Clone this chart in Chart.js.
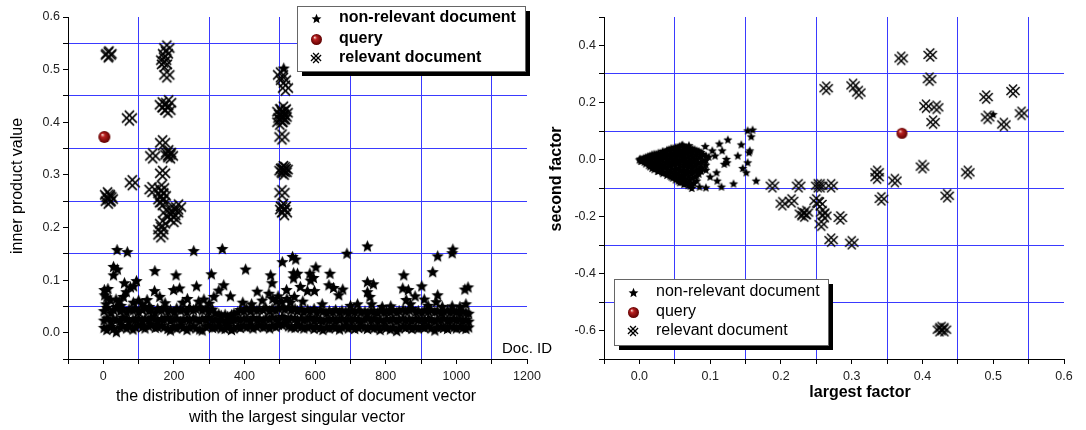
<!DOCTYPE html>
<html>
<head>
<meta charset="utf-8">
<script src="https://cdn.jsdelivr.net/npm/chart.js@4.4.1/dist/chart.umd.min.js"></script>
<style>
  html, body { margin: 0; padding: 0; background: #fff; }
  #wrap { position: relative; width: 1086px; height: 430px; }
  canvas { position: absolute; top: 0; }
  #leftChart { left: 0; }
  #rightChart { left: 543px; }
</style>
</head>
<body>
<div id="wrap">
  <canvas id="leftChart" width="562" height="430"></canvas>
  <canvas id="rightChart" width="543" height="430"></canvas>
</div>
<script>
// ---------- left plot: inner product value per document id ----------
// dense band of non-relevant documents (three rows read off the cloud)
const bandIds = [
  2, 10, 21, 29, 37, 48, 55, 66, 73, 84,
  91, 100, 111, 118, 129, 136, 147, 154, 165, 172,
  183, 190, 201, 208, 219, 226, 237, 244, 255, 262,
  273, 280, 291, 298, 309, 316, 327, 334, 345, 352,
  363, 370, 381, 388, 399, 406, 417, 424, 435, 442,
  453, 460, 471, 478, 489, 496, 507, 514, 525, 532,
  543, 550, 561, 568, 579, 586, 597, 604, 615, 622,
  633, 640, 651, 658, 669, 676, 687, 694, 705, 712,
  723, 730, 741, 748, 759, 766, 777, 784, 795, 802,
  813, 820, 831, 838, 849, 856, 867, 874, 885, 892,
  903, 910, 921, 928, 939, 946, 957, 964, 975, 982,
  993, 1000, 1011, 1018, 1027, 1035
];
const bandLow = [
  .010, .006, .012, .008, .002, .011, .014, .009, .013, .007,
  .011, .015, .012, .009, .013, .016, .010, .012, .014, .011,
  .008, .005, .012, .009, .014, .010, .006, .011, .013, .009,
  .007, .005, .012, .014, .010, .011, .013, .009, .008, .012,
  .006, .009, .012, .010, .014, .011, .013, .009, .012, .015,
  .011, .013, .009, .014, .012, .016, .015, .018, .013, .011,
  .010, .014, .012, .009, .011, .013, .008, .012, .010, .006,
  .011, .009, .012, .010, .007, .011, .013, .009, .012, .008,
  .010, .013, .011, .008, .012, .009, .011, .006, .012, .010,
  .007, .011, .004, .009, .013, .010, .012, .008, .011, .009,
  .012, .010, .013, .009, .005, .011, .012, .010, .008, .013,
  .011, .009, .012, .010, .008, .011
];
const bandMid = [
  .024, .028, .022, .026, .025, .023, .029, .027, .021, .026,
  .025, .028, .023, .027, .024, .030, .026, .022, .027, .025,
  .029, .023, .026, .028, .022, .025, .027, .024, .028, .026,
  .023, .027, .025, .029, .024, .026, .021, .024, .020, .023,
  .022, .025, .027, .024, .028, .026, .023, .029, .025, .027,
  .024, .028, .026, .030, .027, .025, .031, .028, .026, .029,
  .027, .025, .028, .024, .026, .029, .023, .027, .025, .022,
  .026, .024, .027, .023, .025, .028, .022, .026, .024, .027,
  .025, .023, .026, .028, .024, .027, .022, .025, .023, .026,
  .024, .027, .022, .025, .028, .024, .026, .023, .027, .025,
  .026, .023, .027, .025, .022, .026, .024, .028, .023, .025,
  .027, .024, .026, .023, .025, .022
];
const bandHigh = [
  .042, .048, .038, .044, .050, .041, .046, .039, .045, .043,
  .047, .040, .044, .049, .042, .045, .038, .046, .043, .048,
  .041, .044, .039, .047, .043, .045, .040, .048, .044, .046,
  .049, .043, .047, .041, .045, .038, .036, .033, .035, .031,
  .034, .037, .040, .044, .042, .046, .041, .047, .043, .045,
  .044, .048, .042, .046, .043, .047, .049, .045, .048, .044,
  .046, .042, .045, .040, .044, .041, .046, .039, .043, .041,
  .038, .042, .040, .044, .039, .043, .041, .038, .042, .040,
  .043, .039, .041, .037, .042, .040, .038, .043, .039, .041,
  .040, .044, .039, .042, .045, .041, .043, .046, .040, .042,
  .039, .043, .041, .044, .040, .042, .038, .041, .043, .039,
  .042, .040, .038, .041, .039, .037
];
// scattered non-relevant documents above the band
const leftStarIds = [
  39, 68, 29, 40, 29, 60, 94, 77, 3, 13,
  4, 146, 145, 256, 337, 206, 199, 216, 306, 264,
  341, 327, 403, 436, 474, 478, 469, 507, 519, 536,
  545, 539, 550, 539, 541, 558, 585, 587, 602, 595,
  598, 578, 642, 639, 652, 667, 678, 690, 748, 748,
  765, 748, 755, 760, 851, 848, 864, 858, 883, 902,
  909, 933, 947, 947, 943, 988, 990, 988, 1027, 1024,
  1033, 511, 20, 57, 124, 160, 238, 285, 313, 360,
  8, 45, 85, 110, 175, 225, 270, 300, 395, 420,
  450, 490, 520, 530, 565, 620, 700, 720, 790, 814,
  870, 920, 960, 1010, 505, 495, 480, 10, 50, 130,
  65, 86, 36, 100
];
const leftStarVals = [
  .158, .154, .126, .121, .110, .095, .099, .087, .082, .084,
  .072, .118, .080, .156, .160, .110, .082, .085, .112, .089,
  .091, .081, .121, .079, .110, .095, .075, .135, .082, .145,
  .140, .114, .113, .104, .069, .088, .113, .100, .125, .105,
  .080, .080, .113, .091, .086, .072, .083, .151, .165, .097,
  .093, .078, .069, .055, .110, .085, .082, .063, .070, .089,
  .064, .116, .146, .072, .059, .152, .159, .051, .055, .083,
  .087, .503, .063, .069, .063, .069, .065, .064, .069, .070,
  .055, .060, .058, .055, .057, .058, .060, .056, .058, .055,
  .062, .060, .065, .058, .060, .055, .052, .055, .050, .051,
  .055, .052, .050, .050, .060, .070, .065, .068, .052, .050,
  .078, .089, .064, .062
];
const leftRelIds = [
  14, 16, 74, 82, 12, 16, 20, 14, 140, 138,
  168, 168, 180, 176, 171, 173, 180, 167, 185, 183,
  175, 185, 190, 183, 163, 163, 170, 167, 163, 163,
  168, 178, 190, 205, 213, 200, 195, 165, 502, 516,
  510, 500, 505, 512, 508, 500, 515, 510, 503, 506,
  510, 512, 506, 515, 506, 510, 513, 508
];
const leftRelVals = [
  .528, .530, .408, .285, .262, .258, .254, .250, .336, .272,
  .361, .303, .541, .530, .518, .510, .490, .433, .437, .423,
  .428, .342, .336, .338, .265, .253, .260, .247, .196, .186,
  .207, .228, .220, .228, .239, .215, .235, .275, .490, .465,
  .480, .420, .415, .410, .405, .400, .418, .425, .408, .372,
  .312, .305, .308, .310, .266, .240, .228, .234
];
const leftQueryIds = [3];
const leftQueryVals = [0.372];

const leftXTicks  = [-100, 0, 100, 200, 300, 400, 500, 600, 700, 800, 900, 1000, 1100, 1200];
const leftXLabels = ['', '0', '', '200', '', '400', '', '600', '', '800', '', '1000', '', '1200'];
const leftXGrid   = [100, 300, 500, 700, 900, 1100];
const leftYTicks  = [-0.05, 0, 0.05, 0.1, 0.15, 0.2, 0.25, 0.3, 0.35, 0.4, 0.45, 0.5, 0.55, 0.6];
const leftYLabels = ['', '0.0', '', '0.1', '', '0.2', '', '0.3', '', '0.4', '', '0.5', '', '0.6'];
const leftYGrid   = [0.05, 0.15, 0.25, 0.35, 0.45, 0.55];

// ---------- right plot: largest factor vs second factor ----------
const rightStarX = [
  0.000, 0.002, 0.001,
  0.006, 0.007, 0.005,
  0.012, 0.011, 0.013,
  0.018, 0.017, 0.019, 0.018,
  0.024, 0.025, 0.023, 0.024, 0.026,
  0.030, 0.031, 0.029, 0.030, 0.032,
  0.036, 0.035, 0.037, 0.036, 0.038,
  0.042, 0.043, 0.041, 0.042, 0.044, 0.043,
  0.048, 0.049, 0.047, 0.048, 0.050, 0.049, 0.047,
  0.054, 0.055, 0.053, 0.054, 0.056, 0.055, 0.053, 0.055,
  0.060, 0.061, 0.059, 0.060, 0.062, 0.061, 0.059, 0.060,
  0.066, 0.067, 0.065, 0.066, 0.068, 0.067, 0.065, 0.066,
  0.072, 0.073, 0.071, 0.072, 0.074, 0.073, 0.071, 0.072,
  0.078, 0.079, 0.077, 0.078, 0.080, 0.079, 0.077,
  0.084, 0.085, 0.083, 0.085, 0.084,
  0.090, 0.091, 0.089,
  0.093, 0.113, 0.125, 0.144, 0.153, 0.160, 0.158, 0.156, 0.155, 0.139,
  0.153, 0.146, 0.151, 0.165, 0.133, 0.116, 0.110, 0.094, 0.103, 0.107,
  0.117, 0.124, 0.120, 0.109, 0.123, 0.074, 0.085, 0.100, 0.098, 0.500,
  0.061, 0.070
];
const rightStarY = [
  0.000, -0.004, 0.003,
  0.006, -0.008, -0.001,
  0.012, -0.004, -0.020,
  0.018, 0.002, -0.014, -0.030,
  0.020, 0.004, -0.012, -0.028, -0.040,
  0.024, 0.008, -0.008, -0.024, -0.042,
  0.028, 0.010, -0.008, -0.026, -0.046,
  0.036, 0.018, 0.000, -0.018, -0.036, -0.056,
  0.040, 0.022, 0.004, -0.014, -0.032, -0.050, -0.064,
  0.044, 0.026, 0.008, -0.010, -0.028, -0.046, -0.064, -0.074,
  0.050, 0.030, 0.012, -0.006, -0.024, -0.042, -0.060, -0.078,
  0.044, 0.026, 0.008, -0.010, -0.028, -0.046, -0.066, -0.084,
  0.040, 0.022, 0.004, -0.014, -0.032, -0.050, -0.070, -0.092,
  0.036, 0.016, -0.002, -0.020, -0.040, -0.060, -0.082,
  0.030, 0.010, -0.010, -0.030, -0.050,
  0.020, -0.005, -0.030,
  0.047, 0.056, 0.070, 0.053, 0.102, 0.105, 0.081, 0.032, 0.025, 0.014,
  -0.010, -0.030, -0.045, -0.074, -0.084, -0.095, -0.074, -0.098, 0.032, 0.014,
  0.032, -0.010, -0.015, -0.045, 0.002, -0.100, -0.095, -0.060, 0.010, 0.159,
  0.052, 0.050
];
// second, offset layer of the dense non-relevant blob
const rightCoreX = [
  0.003, 0.003,
  0.009, 0.009, 0.009,
  0.015, 0.015, 0.015, 0.015,
  0.021, 0.021, 0.021, 0.021, 0.021,
  0.027, 0.027, 0.027, 0.027, 0.027, 0.027,
  0.033, 0.033, 0.033, 0.033, 0.033, 0.033,
  0.039, 0.039, 0.039, 0.039, 0.039, 0.039, 0.039,
  0.045, 0.045, 0.045, 0.045, 0.045, 0.045, 0.045,
  0.051, 0.051, 0.051, 0.051, 0.051, 0.051, 0.051, 0.051,
  0.057, 0.057, 0.057, 0.057, 0.057, 0.057, 0.057, 0.057, 0.057,
  0.063, 0.063, 0.063, 0.063, 0.063, 0.063, 0.063, 0.063, 0.063,
  0.069, 0.069, 0.069, 0.069, 0.069, 0.069, 0.069, 0.069, 0.069,
  0.075, 0.075, 0.075, 0.075, 0.075, 0.075, 0.075, 0.075,
  0.081, 0.081, 0.081, 0.081, 0.081, 0.081, 0.081,
  0.087, 0.087, 0.087, 0.087, 0.087,
  0.094, 0.094, 0.094, 0.094
];
const rightCoreY = [
  0.002, -0.005,
  0.009, -0.006, -0.014,
  0.014, 0.004, -0.010, -0.024,
  0.020, 0.008, -0.006, -0.020, -0.034,
  0.024, 0.012, -0.002, -0.016, -0.032, -0.040,
  0.030, 0.016, 0.000, -0.016, -0.034, -0.048,
  0.034, 0.020, 0.004, -0.012, -0.028, -0.044, -0.054,
  0.040, 0.026, 0.010, -0.006, -0.024, -0.042, -0.060,
  0.044, 0.030, 0.014, -0.002, -0.020, -0.038, -0.056, -0.070,
  0.048, 0.034, 0.018, 0.000, -0.018, -0.036, -0.054, -0.072, -0.080,
  0.046, 0.034, 0.018, 0.000, -0.018, -0.036, -0.054, -0.072, -0.086,
  0.042, 0.030, 0.014, -0.004, -0.022, -0.040, -0.058, -0.078, -0.090,
  0.038, 0.026, 0.010, -0.008, -0.026, -0.044, -0.064, -0.086,
  0.032, 0.018, 0.002, -0.016, -0.034, -0.056, -0.074,
  0.026, 0.010, -0.008, -0.024, -0.040,
  0.014, -0.002, -0.018, -0.036
];
const rightRelX = [
  0.188, 0.225, 0.252, 0.256, 0.271, 0.202, 0.215, 0.229, 0.236, 0.233,
  0.250, 0.255, 0.259, 0.262, 0.257, 0.284, 0.271, 0.300, 0.264, 0.302,
  0.310, 0.370, 0.411, 0.410, 0.405, 0.420, 0.415, 0.490, 0.528, 0.492,
  0.515, 0.540, 0.336, 0.336, 0.361, 0.342, 0.400, 0.435, 0.464, 0.424,
  0.431, 0.427
];
const rightRelY = [
  -0.092, -0.092, -0.092, -0.092, -0.092, -0.155, -0.145, -0.190, -0.186, -0.195,
  -0.145, -0.156, -0.186, -0.197, -0.227, -0.205, -0.283, -0.292, 0.250, 0.260,
  0.235, 0.355, 0.367, 0.282, 0.187, 0.183, 0.131, 0.219, 0.240, 0.148,
  0.123, 0.162, -0.045, -0.062, -0.074, -0.138, -0.025, -0.127, -0.045, -0.597,
  -0.597, -0.593
];
const rightQueryX = [0.371];
const rightQueryY = [0.092];

const rightXTicks  = [-0.05, 0, 0.05, 0.1, 0.15, 0.2, 0.25, 0.3, 0.35, 0.4, 0.45, 0.5, 0.55, 0.6];
const rightXLabels = ['', '0.0', '', '0.1', '', '0.2', '', '0.3', '', '0.4', '', '0.5', '', '0.6'];
const rightXGrid   = [0.05, 0.15, 0.25, 0.35, 0.45, 0.55];
const rightYTicks  = [-0.7, -0.6, -0.5, -0.4, -0.3, -0.2, -0.1, 0, 0.1, 0.2, 0.3, 0.4, 0.5];
const rightYLabels = ['', '-0.6', '', '-0.4', '', '-0.2', '', '0.0', '', '0.2', '', '0.4', ''];
const rightYGrid   = [-0.5, -0.3, -0.1, 0.1, 0.3];

const seriesNames = ['non-relevant document', 'query', 'relevant document'];

// ---------- drawing ----------
const FONT = '"Liberation Sans", Arial, sans-serif';
const BLUE = '#3a3aff';

function starMarker(r) {
  const c = document.createElement('canvas');
  const s = Math.ceil(r * 2) + 2;
  c.width = c.height = s;
  const g = c.getContext('2d');
  g.translate(s / 2, s / 2 + r * 0.1);
  g.beginPath();
  for (let i = 0; i < 10; i++) {
    const rad = i % 2 ? r * 0.45 : r;
    const a = -Math.PI / 2 + i * Math.PI / 5;
    g.lineTo(rad * Math.cos(a), rad * Math.sin(a));
  }
  g.closePath();
  g.fillStyle = '#000';
  g.fill();
  return c;
}

function crossMarker(a, h, lw) {
  const c = document.createElement('canvas');
  const s = Math.ceil(2 * (a + h)) + 3;
  c.width = c.height = s;
  const g = c.getContext('2d');
  g.translate(s / 2, s / 2);
  g.strokeStyle = '#000';
  g.lineWidth = lw;
  const k = h * Math.SQRT1_2;
  [[1, 1], [1, -1]].forEach(([dx, dy]) => {
    [-1, 1].forEach(sg => {
      const ox = sg * k * dy, oy = -sg * k * dx;
      g.beginPath();
      g.moveTo(-a * dx + ox, -a * dy + oy);
      g.lineTo(a * dx + ox, a * dy + oy);
      g.stroke();
    });
  });
  return c;
}

function sphereMarker(r) {
  const c = document.createElement('canvas');
  const s = Math.ceil(2 * r) + 2;
  c.width = c.height = s;
  const g = c.getContext('2d');
  const m = s / 2;
  const grd = g.createRadialGradient(m - r * 0.35, m - r * 0.4, r * 0.05, m, m, r);
  grd.addColorStop(0, '#f6d0c8');
  grd.addColorStop(0.3, '#b82020');
  grd.addColorStop(1, '#5e0000');
  g.fillStyle = grd;
  g.beginPath();
  g.arc(m, m, r, 0, Math.PI * 2);
  g.fill();
  return c;
}

function zip(xs, ys) {
  return xs.map((x, i) => ({ x: x, y: ys[i] }));
}

function has(list, v) {
  return list.some(g => Math.abs(g - v) < 1e-9);
}

function axis(pos, ticks, labels, grid, fit) {
  return {
    type: 'linear',
    position: pos,
    min: ticks[0],
    max: ticks[ticks.length - 1],
    afterBuildTicks: s => { s.ticks = ticks.map(v => ({ value: v })); },
    afterFit: s => { if (pos === 'left') s.width = fit; else s.height = fit; },
    ticks: {
      autoSkip: false,
      maxRotation: 0,
      color: '#222',
      padding: pos === 'left' ? 3 : 5,
      font: { family: FONT, size: 12.5 },
      callback: (v, i) => labels[i]
    },
    grid: {
      color: c => (c.tick && has(grid, c.tick.value)) ? BLUE : 'rgba(0,0,0,0)',
      tickColor: '#000',
      tickLength: 5,
      lineWidth: 1
    },
    border: { color: '#000', width: 1 }
  };
}

function drawLegend(g, chart, L) {
  g.fillStyle = '#000';
  g.fillRect(L.x + L.shadow, L.y + L.shadow, L.w, L.h);
  g.fillStyle = '#fff';
  g.fillRect(L.x, L.y, L.w, L.h);
  g.strokeStyle = '#666';
  g.lineWidth = 1;
  g.strokeRect(L.x + 0.5, L.y + 0.5, L.w, L.h);
  chart.data.datasets.forEach((ds, i) => {
    const y = L.rows[i];
    const img = ds.legendStyle;
    g.drawImage(img, Math.round(L.symX - img.width / 2), Math.round(y - img.height / 2));
    g.fillStyle = '#000';
    g.font = L.font;
    g.textAlign = 'left';
    g.textBaseline = 'middle';
    g.fillText(ds.label, L.textX, y);
  });
}

function makeDecor(texts, legend) {
  return {
    id: 'decor',
    afterDraw(chart) {
      const g = chart.ctx;
      g.save();
      texts.forEach(t => {
        g.save();
        g.fillStyle = '#000';
        g.font = t.font;
        g.textAlign = t.align || 'center';
        g.textBaseline = 'middle';
        g.translate(t.x, t.y);
        if (t.rotate) g.rotate(-Math.PI / 2);
        g.fillText(t.text, 0, 0);
        g.restore();
      });
      drawLegend(g, chart, legend);
      g.restore();
    }
  };
}

const legStar = starMarker(5.2), legSphere = sphereMarker(5.5), legCross = crossMarker(4, 1.5, 1.3);

function scatter(id, sets, scales, padRight, decor) {
  new Chart(document.getElementById(id), {
    type: 'scatter',
    data: {
      datasets: sets.map((s, i) => ({
        label: seriesNames[i],
        data: s.data,
        pointStyle: s.style,
        legendStyle: s.legend,
        pointRadius: 5,
        pointHoverRadius: 5,
        showLine: false
      }))
    },
    options: {
      responsive: false,
      devicePixelRatio: 1,
      animation: false,
      events: [],
      layout: { padding: { top: 17, right: padRight, left: 0, bottom: 0 } },
      plugins: { legend: { display: false }, tooltip: { enabled: false } },
      scales: scales
    },
    plugins: [decor]
  });
}

// left chart
const leftBand = bandIds.map((d, i) => ({ x: d, y: bandLow[i] }))
  .concat(bandIds.map((d, i) => ({ x: d, y: bandMid[i] })))
  .concat(bandIds.map((d, i) => ({ x: d, y: bandHigh[i] })));

scatter('leftChart', [
  { data: leftBand.concat(zip(leftStarIds, leftStarVals)), style: starMarker(6.5), legend: legStar },
  { data: zip(leftQueryIds, leftQueryVals), style: sphereMarker(6), legend: legSphere },
  { data: zip(leftRelIds, leftRelVals), style: crossMarker(6, 2, 1.6), legend: legCross }
], {
  x: axis('bottom', leftXTicks, leftXLabels, leftXGrid, 71),
  y: axis('left', leftYTicks, leftYLabels, leftYGrid, 68)
}, 35, makeDecor([
  { text: 'inner product value', x: 18, y: 186, rotate: true, font: '16px ' + FONT },
  { text: 'the distribution of inner product of document vector', x: 296, y: 397, font: '16px ' + FONT },
  { text: 'with the largest singular vector', x: 297, y: 418, font: '16px ' + FONT },
  { text: 'Doc. ID', x: 502, y: 349, align: 'left', font: '15px ' + FONT }
], { x: 297, y: 6, w: 228, h: 65, shadow: 5, rows: [18, 39, 58], symX: 316, textX: 339, font: 'bold 16px ' + FONT }));

// right chart
scatter('rightChart', [
  { data: zip(rightStarX, rightStarY).concat(zip(rightCoreX, rightCoreY)), style: starMarker(4.8), legend: legStar },
  { data: zip(rightQueryX, rightQueryY), style: sphereMarker(5.5), legend: legSphere },
  { data: zip(rightRelX, rightRelY), style: crossMarker(5.3, 1.8, 1.5), legend: legCross }
], {
  x: axis('bottom', rightXTicks, rightXLabels, rightXGrid, 71),
  y: axis('left', rightYTicks, rightYLabels, rightYGrid, 61)
}, 22, makeDecor([
  { text: 'second factor', x: 14, y: 179, rotate: true, font: 'bold 16px ' + FONT },
  { text: 'largest factor', x: 317, y: 393, font: 'bold 16px ' + FONT }
], { x: 71, y: 279, w: 214, h: 66, shadow: 5, rows: [292, 312, 331], symX: 90, textX: 113, font: '16px ' + FONT }));
</script>
</body>
</html>
